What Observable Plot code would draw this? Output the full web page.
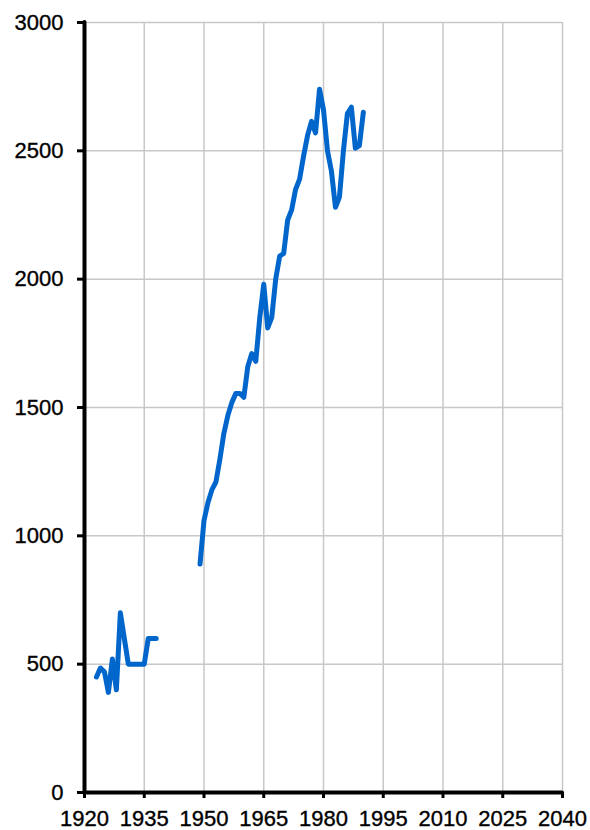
<!DOCTYPE html>
<html>
<head>
<meta charset="utf-8">
<script src="https://cdn.jsdelivr.net/npm/d3@7"></script>
<script src="https://cdn.jsdelivr.net/npm/@observablehq/plot@0.6"></script>
<style>
  html, body { margin: 0; padding: 0; background: #fff; }
  #chart svg { display: block; }
  #chart svg text { stroke: #000; stroke-width: 0.35px; }
</style>
</head>
<body>
<div id="chart"></div>
<script>
const years1 = [1923, 1924, 1925, 1926, 1927, 1928, 1929, 1930, 1931, 1932, 1933, 1934, 1935, 1936, 1937, 1938];
const values1 = [450, 485, 470, 390, 520, 400, 700, 600, 500, 500, 500, 500, 500, 600, 600, 600];

const years2 = [1949, 1950, 1951, 1952, 1953, 1954, 1955, 1956, 1957, 1958, 1959, 1960, 1961, 1962, 1963, 1964, 1965, 1966, 1967, 1968, 1969, 1970, 1971, 1972, 1973, 1974, 1975, 1976, 1977, 1978, 1979, 1980, 1981, 1982, 1983, 1984, 1985, 1986, 1987, 1988, 1989, 1990];
const values2 = [890, 1060, 1130, 1180, 1210, 1300, 1400, 1470, 1520, 1555, 1555, 1540, 1660, 1710, 1680, 1850, 1980, 1810, 1850, 2000, 2090, 2100, 2230, 2270, 2350, 2390, 2480, 2560, 2615, 2570, 2740, 2660, 2500, 2420, 2280, 2320, 2500, 2645, 2670, 2510, 2520, 2650];

const xTicks = [1920, 1935, 1950, 1965, 1980, 1995, 2010, 2025, 2040];
const yTicks = [0, 500, 1000, 1500, 2000, 2500, 3000];

const data = [
  ...years1.map((y, i) => ({year: y, value: values1[i], seg: "a"})),
  ...years2.map((y, i) => ({year: y, value: values2[i], seg: "b"}))
];

const fmt = d => String(d);

const chart = Plot.plot({
  width: 590,
  height: 830,
  marginLeft: 84,
  marginRight: 28,
  marginTop: 22,
  marginBottom: 38,
  style: {fontFamily: "'Liberation Sans', Arial, sans-serif", fontSize: "22px", color: "#000", background: "#fff", overflow: "visible"},
  x: {domain: [1920, 2040]},
  y: {domain: [0, 3000]},
  marks: [
    Plot.gridX(xTicks, {stroke: "#c8c8c8", strokeOpacity: 1, strokeWidth: 1.5}),
    Plot.gridY(yTicks, {stroke: "#c8c8c8", strokeOpacity: 1, strokeWidth: 1.5}),
    Plot.axisX(xTicks, {tickSize: 6, tickPadding: 12, strokeWidth: 3, stroke: "#000", fill: "#000", tickFormat: fmt, label: null, fontSize: 22}),
    Plot.axisY(yTicks, {tickSize: 7, tickPadding: 14, strokeWidth: 3, stroke: "#000", fill: "#000", tickFormat: fmt, label: null, fontSize: 22}),
    Plot.ruleY([0], {stroke: "#000", strokeWidth: 4, strokeLinecap: "round"}),
    Plot.ruleX([1920], {stroke: "#000", strokeWidth: 4, strokeLinecap: "round"}),
    Plot.line(data, {x: "year", y: "value", z: "seg", stroke: "#0066cc", strokeWidth: 5, strokeLinejoin: "round", strokeLinecap: "round"})
  ]
});

document.getElementById("chart").appendChild(chart);
</script>
</body>
</html>
